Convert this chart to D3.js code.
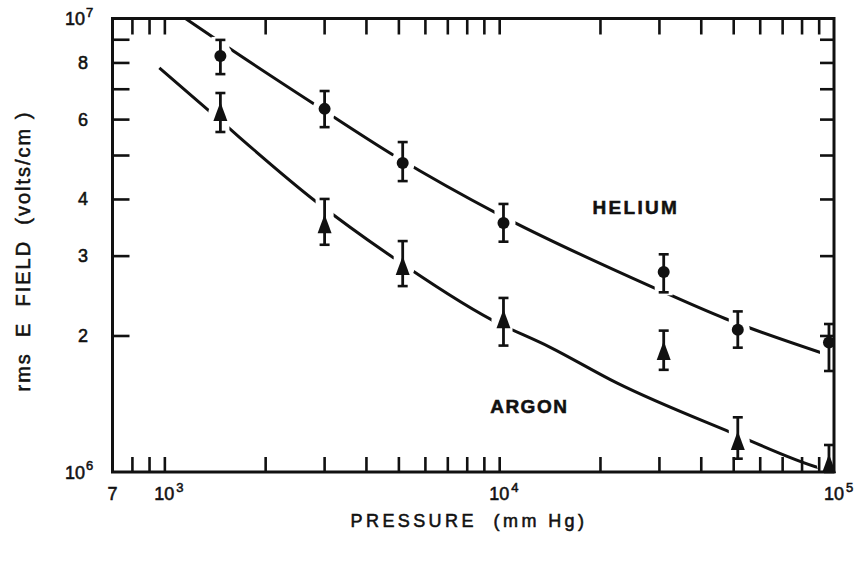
<!DOCTYPE html>
<html>
<head>
<meta charset="utf-8">
<script src="https://cdn.jsdelivr.net/npm/d3@7"></script>
<style>
  html, body { margin: 0; padding: 0; background: #fff; }
  svg { display: block; }
  text { font-family: "Liberation Sans", Arial, sans-serif; fill: #111; stroke: #111; stroke-width: 0.55px; }
</style>
</head>
<body>
<svg id="chart" width="860" height="565"></svg>
<script>
// Pressures (mm Hg) at which the breakdown field was measured
const pressures = [1470, 3010, 5150, 10300, 31000, 51600, 96600];

// Helium: measured rms field (volts/cm) with upper / lower error limits
const heliumField = [8.27e6, 6.32e6, 4.80e6, 3.54e6, 2.76e6, 2.06e6, 1.93e6];
const heliumHigh  = [8.97e6, 6.92e6, 5.34e6, 3.90e6, 3.02e6, 2.26e6, 2.12e6];
const heliumLow   = [7.54e6, 5.76e6, 4.38e6, 3.22e6, 2.49e6, 1.88e6, 1.67e6];

// Argon: measured rms field (volts/cm) with upper / lower error limits
const argonField = [6.19e6, 3.50e6, 2.83e6, 2.16e6, 1.84e6, 1.165e6, 1.036e6];
const argonHigh  = [6.85e6, 4.00e6, 3.23e6, 2.42e6, 2.05e6, 1.32e6, 1.147e6];
const argonLow   = [5.62e6, 3.17e6, 2.57e6, 1.90e6, 1.68e6, 1.07e6, 1.00e6];

// Theoretical curves
const heliumCurveP = [1156, 1543, 2770, 4938, 10030, 28580, 47230, 92060];
const heliumCurveE = [1.0e7, 8.65e6, 6.51e6, 4.95e6, 3.69e6, 2.56e6, 2.18e6, 1.83e6];
const argonCurveP  = [966, 1382, 2847, 4609, 9563, 14160, 22450, 48890, 90800, 100000];
const argonCurveE  = [7.78e6, 6.19e6, 3.94e6, 3.04e6, 2.16e6, 1.886e6, 1.572e6, 1.225e6, 1.02e6, 1.0e6];

// Axis ticks and labels
const xTicks = [800, 900, 1000, 2000, 3000, 4000, 5000, 6000, 7000, 8000, 9000,
                10000, 20000, 30000, 40000, 50000, 60000, 70000, 80000, 90000];
const yTicks = [2e6, 3e6, 4e6, 5e6, 6e6, 7e6, 8e6, 9e6];
const xLabelValues = [700, 1e3, 1e4, 1e5];
const xLabelBase   = ["7", "10", "10", "10"];
const xLabelExp    = ["", "3", "4", "5"];
const yLabelValues = [1e6, 2e6, 3e6, 4e6, 6e6, 8e6, 1e7];
const yLabelBase   = ["10", "2", "3", "4", "6", "8", "10"];
const yLabelExp    = ["6", "", "", "", "", "", "7"];

const svg = d3.select("#chart");
const plotLeft = 112.5, plotRight = 834, plotTop = 18.5, plotBottom = 472;

const x = d3.scaleLog().domain([700, 1e5]).range([plotLeft, plotRight]);
const y = d3.scaleLog().domain([1e6, 1e7]).range([plotBottom, plotTop]);

const ink = "#111";

// ---- ticks (all pointing into the plot) ----
function styleAxis(g) {
  g.select(".domain").remove();
  g.selectAll(".tick line").attr("stroke", ink).attr("stroke-width", 2.6);
  g.selectAll(".tick text").remove();
}
svg.append("g").attr("transform", `translate(0,${plotBottom})`)
  .call(d3.axisBottom(x).tickValues(xTicks).tickSize(-15).tickFormat(""))
  .call(styleAxis);
svg.append("g").attr("transform", `translate(0,${plotTop})`)
  .call(d3.axisTop(x).tickValues(xTicks).tickSize(-16).tickFormat(""))
  .call(styleAxis);
svg.append("g").attr("transform", `translate(${plotLeft},0)`)
  .call(d3.axisLeft(y).tickValues(yTicks).tickSize(-17).tickFormat(""))
  .call(styleAxis);
svg.append("g").attr("transform", `translate(${plotRight},0)`)
  .call(d3.axisRight(y).tickValues(yTicks).tickSize(-14).tickFormat(""))
  .call(styleAxis);

// ---- frame ----
svg.append("rect")
  .attr("x", plotLeft).attr("y", plotTop)
  .attr("width", plotRight - plotLeft).attr("height", plotBottom - plotTop)
  .attr("fill", "none").attr("stroke", ink).attr("stroke-width", 3);

// ---- tick labels ----
const yLab = svg.append("g").attr("font-size", 18);
yLabelValues.forEach((v, i) => {
  const yy = y(v);
  if (yLabelExp[i]) {
    yLab.append("text").attr("x", 85).attr("y", yy + 6.5).attr("text-anchor", "end").text(yLabelBase[i]);
    yLab.append("text").attr("x", 86).attr("y", yy - 2).attr("font-size", 13).text(yLabelExp[i]);
  } else {
    yLab.append("text").attr("x", 88).attr("y", yy + 6.5).attr("text-anchor", "end").text(yLabelBase[i]);
  }
});
const xLab = svg.append("g").attr("font-size", 18);
xLabelValues.forEach((v, i) => {
  const xx = x(v);
  xLab.append("text").attr("x", xx).attr("y", 500).attr("text-anchor", "middle").text(xLabelBase[i]);
  if (xLabelExp[i]) {
    xLab.append("text").attr("x", xx + 12).attr("y", 492).attr("font-size", 13).text(xLabelExp[i]);
  }
});

// ---- axis titles ----
svg.append("text")
  .attr("x", 469).attr("y", 527)
  .attr("text-anchor", "middle").attr("font-size", 18)
  .attr("letter-spacing", 3.4).style("white-space", "pre")
  .text("PRESSURE  (mm Hg)");
svg.append("text")
  .attr("transform", "translate(30,251) rotate(-90)")
  .attr("text-anchor", "middle").attr("font-size", 20)
  .attr("letter-spacing", 2).style("white-space", "pre")
  .text("rms  E  FIELD  (volts/cm )");

// ---- series ----
const series = [
  { name: "helium", cp: heliumCurveP, ce: heliumCurveE, v: heliumField, hi: heliumHigh, lo: heliumLow, shape: "circle" },
  { name: "argon",  cp: argonCurveP,  ce: argonCurveE,  v: argonField,  hi: argonHigh,  lo: argonLow,  shape: "triangle" }
];

const defs = svg.append("defs");
const line = d3.line().x(d => x(d[0])).y(d => y(d[1])).curve(d3.curveMonotoneX);

series.forEach(s => {
  // mask that opens a small gap in the curve around each measured point
  const m = defs.append("mask").attr("id", "gap-" + s.name)
    .attr("maskUnits", "userSpaceOnUse")
    .attr("x", 0).attr("y", 0).attr("width", 860).attr("height", 565);
  m.append("rect").attr("width", 860).attr("height", 565).attr("fill", "#fff");
  pressures.forEach((p, i) => {
    m.append("circle").attr("cx", x(p)).attr("cy", y(s.v[i])).attr("r", 12).attr("fill", "#000");
    m.append("rect").attr("x", x(p) - 9).attr("y", y(s.hi[i]) - 3)
      .attr("width", 18).attr("height", y(s.lo[i]) - y(s.hi[i]) + 6).attr("fill", "#000");
  });

  svg.append("path")
    .datum(s.cp.map((p, i) => [p, s.ce[i]]))
    .attr("d", line)
    .attr("fill", "none").attr("stroke", ink).attr("stroke-width", 3)
    .attr("mask", `url(#gap-${s.name})`);

  const g = svg.append("g");
  pressures.forEach((p, i) => {
    const cx = x(p), yh = y(s.hi[i]), yl = y(s.lo[i]), cy = y(s.v[i]);
    g.append("line").attr("x1", cx).attr("x2", cx).attr("y1", yh).attr("y2", yl)
      .attr("stroke", ink).attr("stroke-width", 2.8);
    [yh, yl].forEach(yy => g.append("line")
      .attr("x1", cx - 5).attr("x2", cx + 5).attr("y1", yy).attr("y2", yy)
      .attr("stroke", ink).attr("stroke-width", 2.6));
    if (s.shape === "circle") {
      g.append("circle").attr("cx", cx).attr("cy", cy).attr("r", 6).attr("fill", ink);
    } else {
      g.append("path").attr("transform", `translate(${cx},${cy})`)
        .attr("d", "M0,-11 L7,8 L-7,8 Z").attr("fill", ink);
    }
  });
});

// ---- series labels ----
svg.append("text").attr("x", x(19000)).attr("y", y(3.71e6))
  .attr("font-size", 19).attr("font-weight", "bold").attr("letter-spacing", 2.3)
  .text("HELIUM");
svg.append("text").attr("x", x(9400)).attr("y", y(1.35e6))
  .attr("font-size", 19).attr("font-weight", "bold").attr("letter-spacing", 1.5)
  .text("ARGON");
</script>
</body>
</html>
